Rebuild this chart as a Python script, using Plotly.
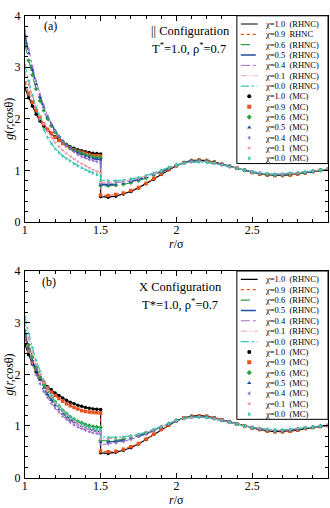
import plotly.graph_objects as go

# ---------------- data ----------------
chis = ["1.0", "0.9", "0.6", "0.5", "0.4", "0.1", "0.0"]

r_short = [1.000, 1.025, 1.050, 1.075, 1.100, 1.125, 1.150, 1.175, 1.200, 1.225, 1.250,
           1.275, 1.300, 1.325, 1.350, 1.375, 1.400, 1.425, 1.450, 1.475, 1.500]
r_long = [1.50, 1.55, 1.60, 1.65, 1.70, 1.75, 1.80, 1.85, 1.90, 1.95, 2.00, 2.05, 2.10,
          2.15, 2.20, 2.25, 2.30, 2.35, 2.40, 2.45, 2.50, 2.55, 2.60, 2.65, 2.70, 2.75,
          2.80, 2.85, 2.90, 2.95, 3.00]

# panel (a): parallel configuration
a_short_10 = [2.60, 2.41, 2.25, 2.09, 1.96, 1.86, 1.78, 1.71, 1.65, 1.59, 1.54, 1.50, 1.46, 1.43, 1.40, 1.38, 1.36, 1.345, 1.33, 1.325, 1.32]
a_short_09 = [2.70, 2.50, 2.32, 2.16, 2.02, 1.90, 1.80, 1.72, 1.64, 1.58, 1.52, 1.48, 1.44, 1.40, 1.37, 1.35, 1.33, 1.31, 1.29, 1.285, 1.28]
a_short_06 = [3.45, 3.13, 2.85, 2.58, 2.35, 2.16, 2.00, 1.86, 1.74, 1.65, 1.56, 1.50, 1.44, 1.40, 1.36, 1.33, 1.30, 1.28, 1.26, 1.25, 1.24]
a_short_05 = [3.62, 3.27, 2.95, 2.67, 2.42, 2.22, 2.04, 1.89, 1.77, 1.66, 1.57, 1.50, 1.43, 1.38, 1.34, 1.31, 1.28, 1.25, 1.23, 1.22, 1.21]
a_short_04 = [3.72, 3.35, 3.02, 2.73, 2.47, 2.25, 2.06, 1.90, 1.77, 1.66, 1.56, 1.48, 1.41, 1.36, 1.31, 1.27, 1.24, 1.21, 1.19, 1.17, 1.16]
a_short_01 = [2.90, 2.66, 2.44, 2.24, 2.06, 1.90, 1.76, 1.64, 1.54, 1.46, 1.39, 1.33, 1.27, 1.22, 1.17, 1.13, 1.09, 1.05, 1.01, 0.98, 0.95]
a_short_00 = [3.05, 2.74, 2.46, 2.21, 1.99, 1.80, 1.64, 1.52, 1.42, 1.35, 1.28, 1.23, 1.18, 1.13, 1.09, 1.05, 1.01, 0.98, 0.95, 0.92, 0.89]

a_long_10 = [0.49, 0.48, 0.50, 0.54, 0.59, 0.66, 0.74, 0.83, 0.92, 1.01, 1.09, 1.15, 1.19, 1.20, 1.19, 1.16, 1.12, 1.08, 1.04, 1.00, 0.96, 0.93, 0.91, 0.90, 0.90, 0.91, 0.93, 0.95, 0.98, 1.00, 1.02]
a_long_09 = [0.52, 0.51, 0.53, 0.56, 0.61, 0.67, 0.75, 0.84, 0.93, 1.02, 1.09, 1.15, 1.19, 1.20, 1.19, 1.16, 1.12, 1.08, 1.04, 1.00, 0.96, 0.93, 0.91, 0.90, 0.90, 0.91, 0.93, 0.95, 0.98, 1.00, 1.02]
a_long_06 = [0.70, 0.70, 0.71, 0.73, 0.76, 0.80, 0.85, 0.91, 0.97, 1.04, 1.10, 1.15, 1.18, 1.19, 1.18, 1.15, 1.12, 1.08, 1.04, 1.00, 0.97, 0.94, 0.92, 0.91, 0.91, 0.92, 0.94, 0.96, 0.98, 1.00, 1.02]
a_long_05 = [0.72, 0.72, 0.73, 0.75, 0.78, 0.82, 0.87, 0.92, 0.98, 1.04, 1.10, 1.15, 1.18, 1.18, 1.17, 1.15, 1.12, 1.08, 1.04, 1.00, 0.97, 0.94, 0.92, 0.92, 0.92, 0.93, 0.94, 0.96, 0.98, 1.00, 1.02]
a_long_04 = [0.75, 0.75, 0.76, 0.78, 0.80, 0.84, 0.88, 0.93, 0.99, 1.05, 1.10, 1.14, 1.17, 1.18, 1.17, 1.14, 1.11, 1.07, 1.04, 1.00, 0.97, 0.95, 0.93, 0.92, 0.92, 0.93, 0.95, 0.97, 0.99, 1.00, 1.02]
a_long_01 = [0.77, 0.77, 0.78, 0.79, 0.81, 0.85, 0.89, 0.94, 0.99, 1.05, 1.10, 1.14, 1.16, 1.17, 1.16, 1.14, 1.11, 1.07, 1.04, 1.00, 0.97, 0.95, 0.94, 0.93, 0.93, 0.94, 0.95, 0.97, 0.99, 1.00, 1.02]
a_long_00 = [0.81, 0.80, 0.80, 0.81, 0.83, 0.86, 0.90, 0.95, 1.00, 1.06, 1.11, 1.14, 1.16, 1.16, 1.15, 1.13, 1.10, 1.07, 1.03, 1.00, 0.97, 0.95, 0.94, 0.93, 0.94, 0.95, 0.96, 0.97, 0.99, 1.00, 1.02]

# panel (b): X configuration
b_short_10 = [2.58, 2.38, 2.20, 2.05, 1.92, 1.83, 1.76, 1.70, 1.64, 1.59, 1.54, 1.50, 1.46, 1.43, 1.40, 1.38, 1.36, 1.345, 1.33, 1.325, 1.32]
b_short_09 = [2.68, 2.45, 2.25, 2.08, 1.94, 1.83, 1.74, 1.66, 1.59, 1.53, 1.48, 1.43, 1.39, 1.36, 1.33, 1.30, 1.28, 1.27, 1.26, 1.255, 1.25]
b_short_06 = [2.85, 2.57, 2.33, 2.13, 1.95, 1.80, 1.67, 1.56, 1.46, 1.38, 1.30, 1.24, 1.18, 1.13, 1.09, 1.06, 1.03, 1.01, 0.99, 0.98, 0.97]
b_short_05 = [2.78, 2.50, 2.27, 2.06, 1.89, 1.74, 1.61, 1.50, 1.40, 1.32, 1.24, 1.18, 1.12, 1.07, 1.03, 1.00, 0.97, 0.94, 0.92, 0.90, 0.89]
b_short_04 = [2.72, 2.44, 2.20, 1.99, 1.82, 1.67, 1.55, 1.44, 1.35, 1.27, 1.19, 1.13, 1.07, 1.02, 0.98, 0.95, 0.92, 0.89, 0.87, 0.855, 0.84]
b_short_01 = [3.00, 2.69, 2.43, 2.20, 2.00, 1.83, 1.68, 1.56, 1.45, 1.36, 1.27, 1.20, 1.14, 1.09, 1.04, 1.00, 0.97, 0.94, 0.92, 0.90, 0.88]
b_short_00 = [3.12, 2.79, 2.52, 2.27, 2.06, 1.88, 1.73, 1.60, 1.49, 1.40, 1.31, 1.24, 1.18, 1.13, 1.08, 1.04, 1.00, 0.97, 0.95, 0.93, 0.92]

b_long_10 = [0.48, 0.47, 0.49, 0.53, 0.58, 0.65, 0.74, 0.84, 0.93, 1.02, 1.10, 1.16, 1.19, 1.20, 1.19, 1.16, 1.12, 1.08, 1.04, 1.00, 0.96, 0.93, 0.90, 0.89, 0.89, 0.90, 0.92, 0.95, 0.97, 0.99, 1.01]
b_long_09 = [0.51, 0.50, 0.51, 0.55, 0.60, 0.66, 0.75, 0.84, 0.93, 1.02, 1.10, 1.16, 1.19, 1.20, 1.19, 1.16, 1.12, 1.08, 1.04, 1.00, 0.96, 0.93, 0.90, 0.89, 0.89, 0.90, 0.92, 0.95, 0.97, 0.99, 1.01]
b_long_06 = [0.72, 0.71, 0.72, 0.74, 0.77, 0.81, 0.86, 0.92, 0.98, 1.05, 1.11, 1.15, 1.18, 1.18, 1.17, 1.15, 1.11, 1.08, 1.04, 1.00, 0.97, 0.94, 0.92, 0.91, 0.91, 0.92, 0.94, 0.96, 0.98, 1.00, 1.01]
b_long_05 = [0.69, 0.69, 0.70, 0.72, 0.76, 0.80, 0.85, 0.91, 0.98, 1.04, 1.10, 1.15, 1.18, 1.18, 1.17, 1.15, 1.11, 1.08, 1.04, 1.00, 0.97, 0.94, 0.92, 0.91, 0.91, 0.92, 0.94, 0.96, 0.98, 1.00, 1.01]
b_long_04 = [0.64, 0.65, 0.67, 0.70, 0.74, 0.79, 0.84, 0.91, 0.97, 1.04, 1.10, 1.15, 1.17, 1.18, 1.17, 1.15, 1.11, 1.08, 1.04, 1.00, 0.97, 0.94, 0.92, 0.91, 0.91, 0.92, 0.94, 0.96, 0.98, 1.00, 1.01]
b_long_01 = [0.75, 0.75, 0.76, 0.78, 0.80, 0.84, 0.88, 0.93, 0.99, 1.05, 1.10, 1.14, 1.16, 1.17, 1.16, 1.14, 1.11, 1.07, 1.04, 1.00, 0.97, 0.95, 0.93, 0.92, 0.92, 0.93, 0.95, 0.97, 0.98, 1.00, 1.01]
b_long_00 = [0.79, 0.78, 0.78, 0.79, 0.81, 0.84, 0.88, 0.93, 0.99, 1.05, 1.11, 1.15, 1.17, 1.17, 1.16, 1.13, 1.10, 1.07, 1.03, 1.00, 0.97, 0.95, 0.94, 0.93, 0.93, 0.94, 0.95, 0.97, 0.98, 1.00, 1.01]

x_ticks = [1, 1.5, 2, 2.5, 3]
x_ticklabels = ["1", "1.5", "2", "2.5", "3"]
y_ticks = [0, 1, 2, 3, 4]
y_ticklabels = ["0", "1", "2", "3", "4"]

legend_a = ["χ=1.0  (RHNC)", "χ=0.9  RHNC", "χ=0.6  (RHNC)", "χ=0.5  (RHNC)", "χ=0.4  (RHNC)",
            "χ=0.1  (RHNC)", "χ=0.0  (RHNC)", "χ=1.0  (MC)", "χ=0.9  (MC)", "χ=0.6  (MC)",
            "χ=0.5  (MC)", "χ=0.4  (MC)", "χ=0.1  (MC)", "χ=0.0  (MC)"]
legend_b = ["χ=1.0  (RHNC)", "χ=0.9  (RHNC)", "χ=0.6  (RHNC)", "χ=0.5  (RHNC)", "χ=0.4  (RHNC)",
            "χ=0.1  (RHNC)", "χ=0.0  (RHNC)", "χ=1.0  (MC)", "χ=0.9  (MC)", "χ=0.6  (MC)",
            "χ=0.5  (MC)", "χ=0.4  (MC)", "χ=0.1  (MC)", "χ=0.0  (MC)"]

# ---------------- styles ----------------
colors = ["#000000", "#E8501E", "#2E9E45", "#1F4E9E", "#9B6FCF", "#E89AAE", "#38C6B2"]
dashes = ["solid", "dot", "dash", "longdash", "dashdot", "6px,2px,1px,2px,1px,2px", "8px,3px,2px,3px"]
widths = [1.2, 1.2, 1.2, 1.6, 1.0, 1.0, 1.2]
symbols = ["circle", "square", "diamond", "triangle-up", "triangle-left", "triangle-down", "triangle-right"]

panel_a = [(a_short_10, a_long_10), (a_short_09, a_long_09), (a_short_06, a_long_06),
           (a_short_05, a_long_05), (a_short_04, a_long_04), (a_short_01, a_long_01),
           (a_short_00, a_long_00)]
panel_b = [(b_short_10, b_long_10), (b_short_09, b_long_09), (b_short_06, b_long_06),
           (b_short_05, b_long_05), (b_short_04, b_long_04), (b_short_01, b_long_01),
           (b_short_00, b_long_00)]

W, H = 330, 508
def px(x):
    return x / W
def py(y):
    return 1 - y / H

FONT = "Liberation Serif"
fig = go.Figure()

panels = [("x", "y", panel_a), ("x2", "y2", panel_b)]
for xa, ya, pdata in panels:
    for i, (s, l) in enumerate(pdata):
        xs = r_short + r_long
        ys = s + l
        fig.add_trace(go.Scatter(x=xs, y=ys, mode="lines", xaxis=xa, yaxis=ya,
                                 line=dict(color=colors[i], dash=dashes[i], width=widths[i]),
                                 showlegend=False, hoverinfo="skip"))
    for i, (s, l) in enumerate(pdata):
        xs = r_short + r_long
        ys = s + l
        fig.add_trace(go.Scatter(x=xs, y=ys, mode="markers", xaxis=xa, yaxis=ya,
                                 marker=dict(color=colors[i], symbol=symbols[i], size=3.5, line=dict(width=0)),
                                 showlegend=False, hoverinfo="skip"))

# geometry
xdom = [px(22), px(328)]
ydom_a = [py(221), py(9)]
ydom_b = [py(484), py(271.5)]

axis_common = dict(range=[1, 3], tickvals=x_ticks, ticktext=x_ticklabels, ticks="inside",
                   ticklen=5, tickwidth=1, tickcolor="black", showline=True, linecolor="black",
                   linewidth=1, mirror="ticks", showgrid=False, zeroline=False,
                   ticklabelstandoff=-3,
                   tickfont=dict(family=FONT, size=12, color="black"),
                   minor=dict(dtick=0.1, ticks="inside", ticklen=3, tickcolor="black", showgrid=False))
yaxis_common = dict(range=[0, 4], tickvals=y_ticks, ticktext=y_ticklabels, ticks="inside",
                    ticklen=5, tickwidth=1, tickcolor="black", showline=True, linecolor="black",
                    linewidth=1, mirror="ticks", showgrid=False, zeroline=False,
                    ticklabelstandoff=1,
                    tickfont=dict(family=FONT, size=12, color="black"),
                    minor=dict(dtick=0.2, ticks="inside", ticklen=3, tickcolor="black", showgrid=False))

fig.update_layout(
    width=W, height=H, margin=dict(l=0, r=0, t=0, b=0),
    paper_bgcolor="white", plot_bgcolor="white",
    xaxis=dict(domain=xdom, anchor="y", **axis_common),
    yaxis=dict(domain=ydom_a, anchor="x", **yaxis_common),
    xaxis2=dict(domain=xdom, anchor="y2", **axis_common),
    yaxis2=dict(domain=ydom_b, anchor="x2", **yaxis_common),
)

# ---- custom legends on overlay axes ----
leg_boxes = [
    ("x3", "y3", [px(236), px(328)], [py(161), py(9)], legend_a),
    ("x4", "y4", [px(236), px(328)], [py(424), py(271.5)], legend_b),
]
n = 14
for xa, ya, xd, yd, labels in leg_boxes:
    xname = "xaxis" + xa[1:]
    yname = "yaxis" + ya[1:]
    fig.update_layout(**{
        xname: dict(domain=xd, range=[0, 92], visible=False, fixedrange=True, anchor=ya),
        yname: dict(domain=yd, range=[0, n + 0.3], visible=False, fixedrange=True, anchor=xa),
    })
    for i in range(7):
        yrow = n - 0.5 - i
        fig.add_trace(go.Scatter(x=[4, 21], y=[yrow, yrow], mode="lines", xaxis=xa, yaxis=ya,
                                 line=dict(color=colors[i], dash=dashes[i], width=widths[i]),
                                 showlegend=False, hoverinfo="skip"))
    for i in range(7):
        yrow = n - 7.5 - i
        fig.add_trace(go.Scatter(x=[12.5], y=[yrow], mode="markers", xaxis=xa, yaxis=ya,
                                 marker=dict(color=colors[i], symbol=symbols[i], size=4, line=dict(width=0)),
                                 showlegend=False, hoverinfo="skip"))
    for i, lab in enumerate(labels):
        fig.add_annotation(x=26, y=n - 0.5 - i, xref=xa, yref=ya, text=lab, showarrow=False,
                           xanchor="left", yanchor="middle",
                           font=dict(family=FONT, size=8.5, color="black"))
    fig.add_shape(type="rect", xref="paper", yref="paper", x0=xd[0], x1=xd[1], y0=yd[0], y1=yd[1],
                  line=dict(color="black", width=1), fillcolor="rgba(0,0,0,0)")

# ---- text annotations ----
def ann(x, y, text, size=12, xanchor="center", angle=0):
    fig.add_annotation(x=px(x), y=py(y), xref="paper", yref="paper", text=text, showarrow=False,
                       xanchor=xanchor, yanchor="middle", textangle=angle,
                       font=dict(family=FONT, size=size, color="black"))

ann(39, 20, "(a)", 12, "left")
ann(189, 25, "|| Configuration", 12.5)
ann(188, 42, "T<sup>*</sup>=1.0, ρ<sup>*</sup>=0.7", 12.5)
ann(37, 283, "(b)", 12, "left")
ann(179, 288, "X Configuration", 12.5)
ann(179, 305, "T*=1.0, ρ<sup>*</sup>=0.7", 12.5)
ann(175, 244, "<i>r</i>/σ", 12)
ann(175, 507, "<i>r</i>/σ", 12)
ann(6, 115, "<i>g</i>(<i>r,cos</i>θ)", 12, angle=-90)
ann(6, 378, "<i>g</i>(<i>r,cos</i>θ)", 12, angle=-90)

fig.write_html("out.html")
